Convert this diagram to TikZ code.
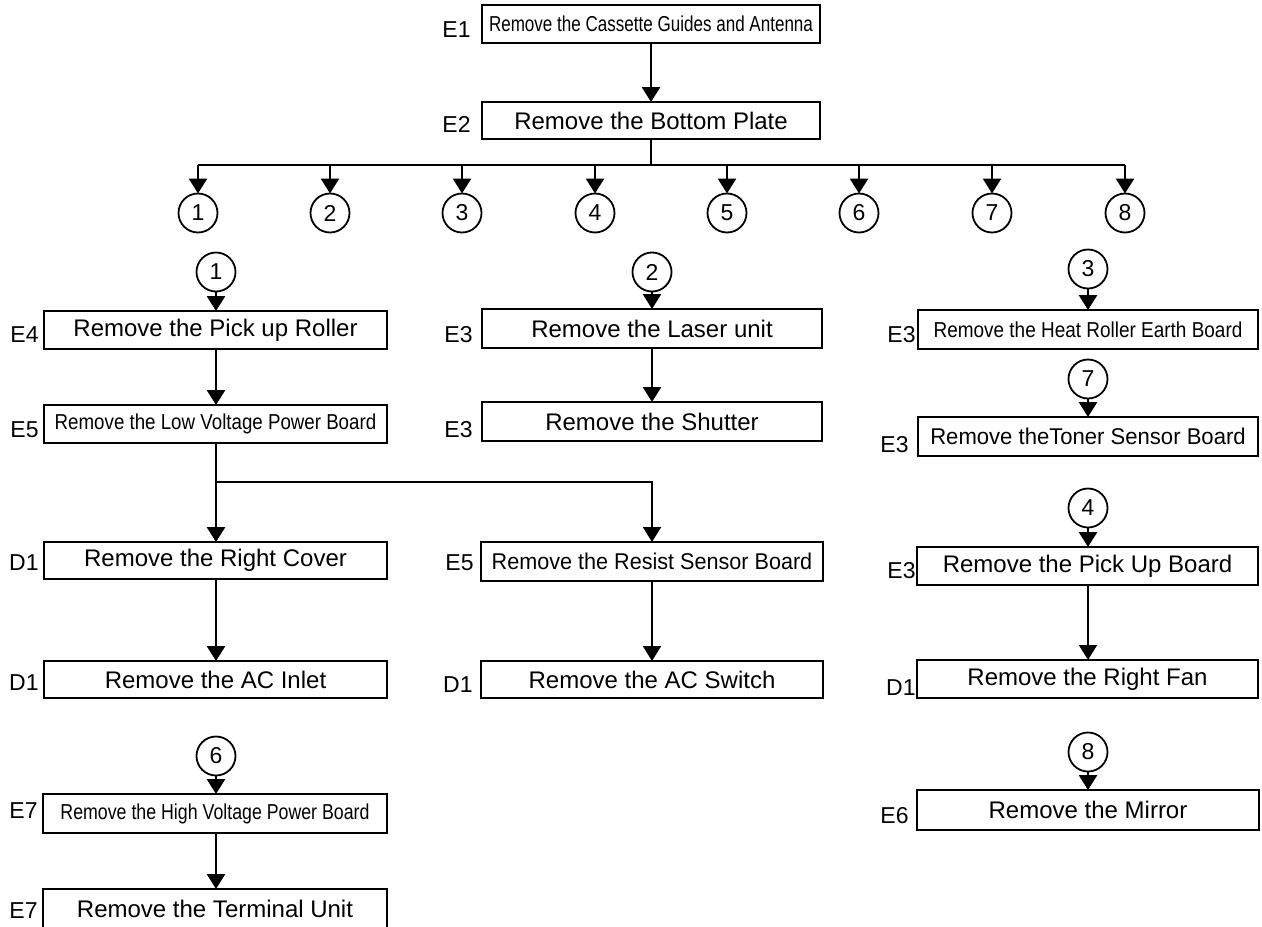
\documentclass[tikz,border=0pt]{standalone}
\usepackage{fontspec}
\usepackage{graphicx}
\setmainfont{Liberation Sans}
\usetikzlibrary{arrows.meta}

\tikzset{
  procbox/.style={draw, line width=1.1pt, inner sep=0pt, outer sep=0pt,
    font=\fontsize{12}{14}\selectfont, align=center},
  refnum/.style={draw, circle, line width=0.9pt, minimum size=19.5pt,
    inner sep=0pt, outer sep=0pt, font=\fontsize{11.5}{13}\selectfont},
  steplabel/.style={anchor=base east, inner sep=0pt,
    font=\fontsize{11.5}{13}\selectfont},
  flow/.style={line width=1.4pt, -{Triangle[length=7.5pt,width=9pt]}},
  thinflow/.style={line width=1pt, -{Triangle[length=7.5pt,width=9pt]}},
  busline/.style={line width=1.4pt},
}

% \stepbox{name}{left}{top}{right}{bottom}{text}, corners in pixel units
\newcommand\stepbox[6]{%
  \node[procbox, minimum width={(#4-#2)*0.5pt}, minimum height={(#5-#3)*0.5pt}]
    (#1) at ({(#2+#4)/2},{(#3+#5)/2}) {#6};}
\newcommand\narrow[3]{\scalebox{#1}[#2]{#3}}

\begin{document}
\begin{tikzpicture}[x=0.5pt, y=-0.5pt]
\useasboundingbox (0,0) rectangle (1262,926);
\fill[white] (0,0) rectangle (1262,926);

% ---- top of the procedure ----
\stepbox{cas}{482}{5}{820}{43}{\narrow{0.71}{0.9}{Remove the Cassette Guides and Antenna}}
\stepbox{bot}{482}{102}{820}{139}{Remove the Bottom Plate}
\node[steplabel] (lcas) at (471,37) {E1};
\node[steplabel] (lbot) at (471,132) {E2};
\draw[flow] (cas.south) -- (bot.north);

% ---- branch references 1..8 ----
\foreach \i/\x in {1/198,2/330,3/462,4/595,5/727,6/859,7/992,8/1125}
  \node[refnum] (n\i) at (\x,213) {\i};
\coordinate (bus) at (651,165);
\draw[busline] (bot.south) -- (bot.south |- bus);
\draw[busline] (n1 |- bus) -- (n8 |- bus);
\foreach \i in {1,...,8}
  \draw[flow] (n\i |- bus) -- (n\i.north);

% ---- branch 1 ----
\node[refnum] (c1) at (216,272) {1};
\stepbox{pick}{44}{311}{387}{349}{Remove the Pick up Roller}
\stepbox{lvp}{44}{405}{387}{443}{\narrow{0.78}{0.9}{Remove the Low Voltage Power Board}}
\stepbox{rcov}{44}{542}{387}{579}{Remove the Right Cover}
\stepbox{acin}{44}{661}{387}{698}{Remove the AC Inlet}
\stepbox{res}{481}{542}{823}{581}{\narrow{0.9}{0.95}{Remove the Resist Sensor Board}}
\stepbox{acsw}{481}{661}{823}{698}{Remove the AC Switch}
\node[steplabel] (lpick) at (39,342) {E4};
\node[steplabel] (llvp) at (39,437) {E5};
\node[steplabel] (lrcov) at (39,570) {D1};
\node[steplabel] (lacin) at (39,690) {D1};
\node[steplabel] (lres) at (474,570) {E5};
\node[steplabel] (lacsw) at (473,692) {D1};
\draw[flow] (c1.south) -- (c1.south |- pick.north);
\draw[flow] (c1.south |- pick.south) -- (c1.south |- lvp.north);
\coordinate (split) at (216,482);
\draw[flow] (c1.south |- lvp.south) -- (c1.south |- rcov.north);
\draw[thinflow] (split) -- (res.north |- split) -- (res.north);
\draw[flow] (c1.south |- rcov.south) -- (c1.south |- acin.north);
\draw[thinflow] (res.south) -- (acsw.north);

% ---- branch 6 ----
\node[refnum] (c6) at (216,756) {6};
\stepbox{hvp}{43}{794}{387}{833}{\narrow{0.74}{0.9}{Remove the High Voltage Power Board}}
\stepbox{term}{43}{889}{387}{929}{Remove the Terminal Unit}
\node[steplabel] (lhvp) at (38,818) {E7};
\node[steplabel] (lterm) at (38,918) {E7};
\draw[flow] (c6.south) -- (c6.south |- hvp.north);
\draw[flow] (c6.south |- hvp.south) -- (c6.south |- term.north);

% ---- branch 2 ----
\node[refnum] (c2) at (652,272) {2};
\stepbox{laser}{482}{309}{822}{348}{Remove the Laser unit}
\stepbox{shut}{482}{402}{822}{441}{Remove the Shutter}
\node[steplabel] (llaser) at (473,342) {E3};
\node[steplabel] (lshut) at (473,437) {E3};
\draw[flow] (c2.south) -- (c2.south |- laser.north);
\draw[flow] (c2.south |- laser.south) -- (c2.south |- shut.north);

% ---- branches 3, 7, 4, 8 ----
\node[refnum] (c3) at (1088,269) {3};
\stepbox{heat}{918}{310}{1258}{349}{\narrow{0.79}{0.9}{Remove the Heat Roller Earth Board}}
\node[steplabel] (lheat) at (916,342) {E3};
\draw[flow] (c3.south) -- (c3.south |- heat.north);

\node[refnum] (c7) at (1088,379) {7};
\stepbox{toner}{918}{417}{1258}{456}{\narrow{0.92}{0.95}{Remove theToner Sensor Board}}
\node[steplabel] (ltoner) at (909,452) {E3};
\draw[flow] (c7.south) -- (c7.south |- toner.north);

\node[refnum] (c4) at (1088,508) {4};
\stepbox{pub}{917}{547}{1258}{585}{Remove the Pick Up Board}
\stepbox{fan}{917}{660}{1258}{698}{Remove the Right Fan}
\node[steplabel] (lpub) at (916,578) {E3};
\node[steplabel] (lfan) at (916,695) {D1};
\draw[flow] (c4.south) -- (c4.south |- pub.north);
\draw[thinflow] (c4.south |- pub.south) -- (c4.south |- fan.north);

\node[refnum] (c8) at (1088,752) {8};
\stepbox{mir}{917}{790}{1259}{830}{Remove the Mirror}
\node[steplabel] (lmir) at (909,823) {E6};
\draw[flow] (c8.south) -- (c8.south |- mir.north);
\end{tikzpicture}
\end{document}
